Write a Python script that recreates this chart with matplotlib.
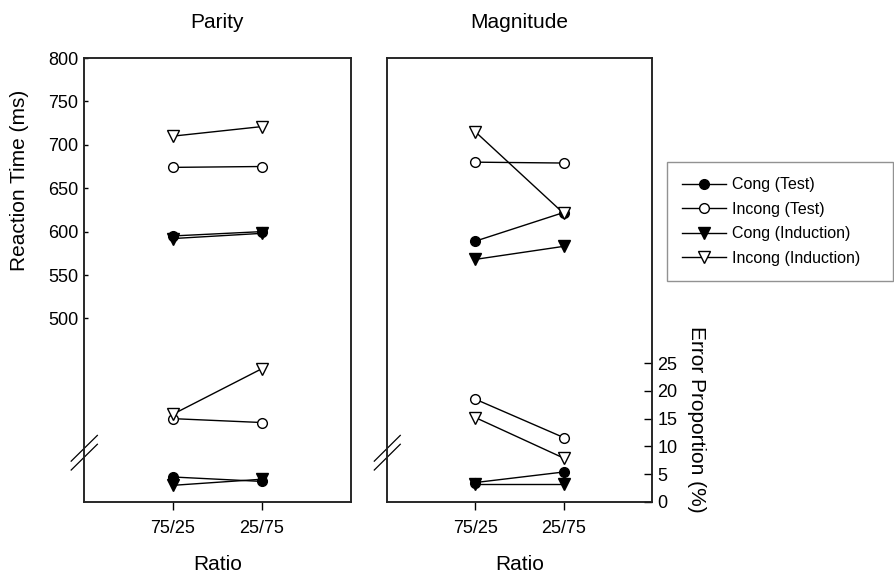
import matplotlib
matplotlib.use("Agg")
import matplotlib.pyplot as plt
from matplotlib.lines import Line2D

plt.rcParams['font.family'] = ['Liberation Sans', 'DejaVu Sans']

ratios = ["75/25", "25/75"]
series_names = ["Cong (Test)", "Incong (Test)", "Cong (Induction)", "Incong (Induction)"]

# Reaction times (ms)
parity_rt_cong_test = [595, 600]
parity_rt_incong_test = [674, 675]
parity_rt_cong_ind = [592, 598]
parity_rt_incong_ind = [710, 721]
magnitude_rt_cong_test = [589, 622]
magnitude_rt_incong_test = [680, 679]
magnitude_rt_cong_ind = [568, 583]
magnitude_rt_incong_ind = [715, 621]

# Error proportions (%)
parity_err_cong_test = [4.5, 3.7]
parity_err_incong_test = [15.0, 14.3]
parity_err_cong_ind = [3.0, 4.1]
parity_err_incong_ind = [15.8, 24.0]
magnitude_err_cong_test = [3.5, 5.4]
magnitude_err_incong_test = [18.5, 11.6]
magnitude_err_cong_ind = [3.2, 3.2]
magnitude_err_incong_ind = [15.2, 7.9]

rt_ticks = [500, 550, 600, 650, 700, 750, 800]
err_ticks = [0, 5, 10, 15, 20, 25]

styles = [
    dict(marker='o', mfc='black', mec='black', ms=7),
    dict(marker='o', mfc='white', mec='black', ms=7),
    dict(marker='v', mfc='black', mec='black', ms=8.5),
    dict(marker='v', mfc='white', mec='black', ms=8.5),
]

W, H = 895, 575
fig = plt.figure(figsize=(W / 100, H / 100), dpi=100)

def px_axes(x0, x1, y0, y1):
    return fig.add_axes([x0 / W, 1 - y1 / H, (x1 - x0) / W, (y1 - y0) / H])

panels = [
    ("Parity", (84, 351),
     [parity_rt_cong_test, parity_rt_incong_test, parity_rt_cong_ind, parity_rt_incong_ind],
     [parity_err_cong_test, parity_err_incong_test, parity_err_cong_ind, parity_err_incong_ind]),
    ("Magnitude", (387, 652),
     [magnitude_rt_cong_test, magnitude_rt_incong_test, magnitude_rt_cong_ind, magnitude_rt_incong_ind],
     [magnitude_err_cong_test, magnitude_err_incong_test, magnitude_err_cong_ind, magnitude_err_incong_ind]),
]

xpos = [1, 2]
handles = []
for pi, (title, (xa, xb), rts, errs) in enumerate(panels):
    ax = px_axes(xa, xb, 58, 502)
    ax2 = ax.twinx()
    ax.set_xlim(0, 3)
    ax.set_ylim(288.5, 800)
    ax2.set_ylim(0, 79.9)
    order = [2, 0, 1, 3]
    for i in order:
        ax.plot(xpos, rts[i], color='black', lw=1, zorder=3, **styles[i])
        ax2.plot(xpos, errs[i], color='black', lw=1, zorder=3, **styles[i])
    for sp in list(ax.spines.values()) + list(ax2.spines.values()):
        sp.set_linewidth(1.1)
        sp.set_color('#222222')
    ax.set_xticks(xpos)
    ax.set_xticklabels(ratios, fontsize=13)
    ax.tick_params(axis='x', direction='out', length=6, width=1, pad=7)
    if pi == 0:
        ax.set_yticks(rt_ticks)
        ax.set_yticklabels([str(t) for t in rt_ticks], fontsize=13)
        ax.tick_params(axis='y', direction='in', length=3, width=1, pad=4)
        ax2.set_yticks([])
    else:
        ax.set_yticks([])
        ax2.set_yticks(err_ticks)
        ax2.set_yticklabels([str(t) for t in err_ticks], fontsize=13)
        ax2.tick_params(axis='y', direction='in', length=6, width=1, pad=4)
    # axis break marks
    for dy in (0.0, 0.02):
        ax.add_line(Line2D([-0.048, 0.05], [0.072 + dy, 0.13 + dy], transform=ax.transAxes,
                           color='black', lw=0.9, clip_on=False))
    fig.text(((xa + xb) / 2) / W, 1 - 22 / H, title, ha='center', va='center', fontsize=15)
    fig.text(((xa + xb) / 2) / W, 1 - 564 / H, "Ratio", ha='center', va='center', fontsize=15)
    if pi == 0:
        for i in range(4):
            handles.append(Line2D([], [], color='black', lw=1, **styles[i]))

fig.text(20 / W, 1 - 180 / H, "Reaction Time (ms)", rotation=90, ha='center', va='center', fontsize=15)
fig.text(697 / W, 1 - 419 / H, "Error Proportion (%)", rotation=-90, ha='center', va='center', fontsize=15)

leg = fig.legend(handles, series_names, loc='upper left',
                 bbox_to_anchor=(667 / W, 1 - 282 / H, (893 - 667) / W, (282 - 162) / H),
                 mode='expand', fontsize=11.5, frameon=True, fancybox=False,
                 borderpad=0.95, labelspacing=0.6, handlelength=2.75, handletextpad=0.4,
                 borderaxespad=0)
leg.get_frame().set_edgecolor('#777777')
leg.get_frame().set_linewidth(1.0)

fig.savefig("out.png", dpi=100)
